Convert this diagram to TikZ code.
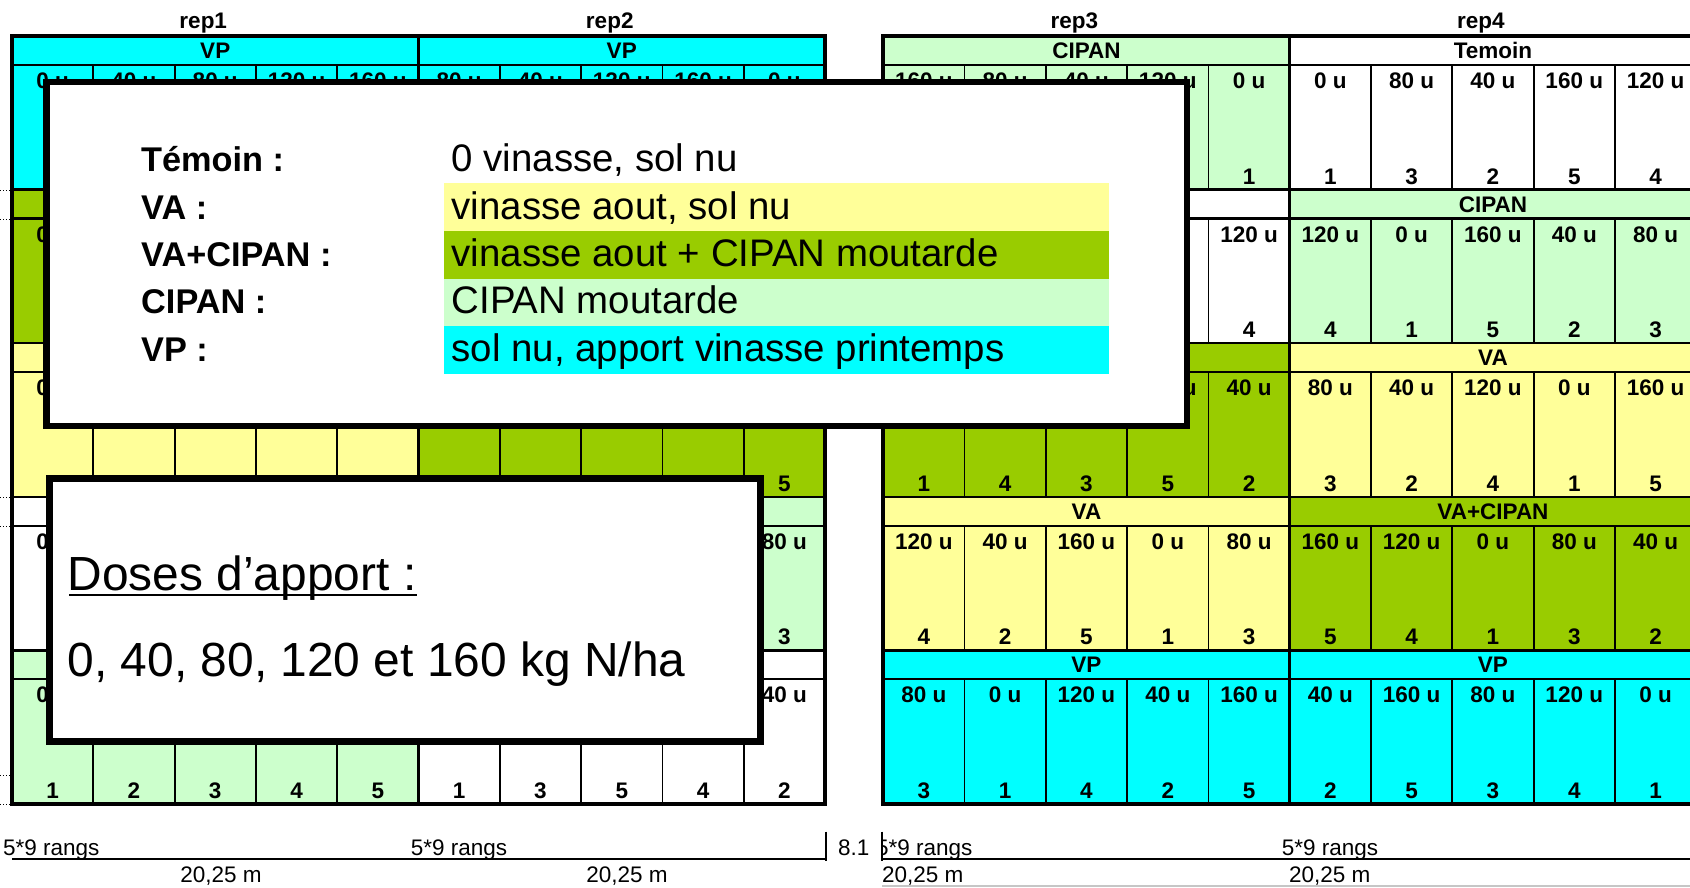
\documentclass[tikz,border=0pt]{standalone}
\usepackage{fontspec}
\setmainfont{Liberation Sans}
\usepackage{tikz}
\usetikzlibrary{positioning,calc}
\definecolor{vpcyan}{RGB}{0,255,255}
\definecolor{vayellow}{RGB}{255,255,153}
\definecolor{vaolive}{RGB}{153,204,0}
\definecolor{cipgreen}{RGB}{204,255,204}
\newcommand{\cellfont}{\fontsize{22.5}{27}\selectfont\bfseries}
\newcommand{\dimfont}{\fontsize{22.5}{27}\selectfont}

\begin{document}
\begin{tikzpicture}[x=1pt, y=-1pt]
    \tikzstyle{plot}=[draw, line width=1.8pt, minimum width=81.3pt, minimum height=124.6pt, inner sep=0pt, outer sep=0pt, anchor=north west]
    \tikzstyle{head}=[draw, line width=2.5pt, minimum width=406.5pt, minimum height=29pt, inner sep=0pt, outer sep=0pt, anchor=north west, font=\cellfont, text height=16.1pt, text depth=0pt]
    \tikzstyle{txt}=[inner sep=0pt, anchor=base, font=\cellfont]
    \tikzstyle{legbox}=[draw, fill=white, inner sep=0pt, outer sep=0pt, anchor=north west]
    \tikzstyle{bar}=[minimum width=665pt, minimum height=47.6pt, inner sep=0pt, outer sep=0pt, anchor=north west]
    \tikzstyle{key}=[inner sep=0pt, anchor=base west, font=\fontsize{34.3}{40}\selectfont\bfseries]
    \tikzstyle{val}=[inner sep=0pt, anchor=base west, font=\fontsize{38.4}{45}\selectfont]
    \tikzstyle{big}=[inner sep=0pt, anchor=base west, font=\fontsize{47.9}{57}\selectfont]
    \tikzstyle{dim}=[inner sep=0pt, anchor=base west, font=\dimfont]

    \useasboundingbox (0,0) rectangle (1690,887);
    \clip (0,0) rectangle (1690,887);

    % plots: header strip + 5 doses per rep and row
    \foreach \rn/\bx/\row/\fc/\lab in {
        1/12/1/vpcyan/VP, 1/12/2/vaolive/, 1/12/3/vayellow/, 1/12/4/white/, 1/12/5/cipgreen/,
        2/418.5/1/vpcyan/VP, 2/418.5/2/vayellow/, 2/418.5/3/vaolive/, 2/418.5/4/cipgreen/, 2/418.5/5/white/,
        3/883.2/1/cipgreen/CIPAN, 3/883.2/2/white/, 3/883.2/3/vaolive/, 3/883.2/4/vayellow/VA, 3/883.2/5/vpcyan/VP,
        4/1289.7/1/white/Temoin, 4/1289.7/2/cipgreen/CIPAN, 4/1289.7/3/vayellow/VA, 4/1289.7/4/vaolive/VA+CIPAN, 4/1289.7/5/vpcyan/VP}
    {
        \node[head, fill=\fc] (h\rn-\row) at ({\bx}, {36+(\row-1)*153.6}) {\lab};
        \foreach \cc in {0,...,4}
            \node[plot, fill=\fc] (p\rn-\row-\cc) at ({\bx+\cc*81.3}, {65+(\row-1)*153.6}) {};
    }

    % dose on top, number at the bottom
    \foreach \rn/\row/\cells in {
        1/1/{0 u/,40 u/,80 u/,120 u/,160 u/},
        1/2/{0 u/,/,/,/,/},
        1/3/{0 u/1,/2,/3,/4,/5},
        1/4/{0 u/,/,/,/,/},
        1/5/{0 u/1,/2,/3,/4,/5},
        2/1/{80 u/,40 u/,120 u/,160 u/,0 u/},
        2/3/{/,/,/,/,/5},
        2/4/{/,/,/,/,80 u/3},
        2/5/{/1,/3,/5,/4,40 u/2},
        3/1/{160 u/,80 u/,40 u/,120 u/,0 u/1},
        3/2/{/,/,/,/,120 u/4},
        3/3/{/1,/4,/3,160 u/5,40 u/2},
        3/4/{120 u/4,40 u/2,160 u/5,0 u/1,80 u/3},
        3/5/{80 u/3,0 u/1,120 u/4,40 u/2,160 u/5},
        4/1/{0 u/1,80 u/3,40 u/2,160 u/5,120 u/4},
        4/2/{120 u/4,0 u/1,160 u/5,40 u/2,80 u/3},
        4/3/{80 u/3,40 u/2,120 u/4,0 u/1,160 u/5},
        4/4/{160 u/5,120 u/4,0 u/1,80 u/3,40 u/2},
        4/5/{40 u/2,160 u/5,80 u/3,120 u/4,0 u/1}}
    {
        \foreach \ds/\nb [count=\cc from 0] in \cells {
            \if\relax\detokenize\expandafter{\ds}\relax\else
                \node[txt] (d\rn-\row-\cc) at ($(p\rn-\row-\cc.north)+(0,23.5)$) {\ds};
            \fi
            \if\relax\detokenize\expandafter{\nb}\relax\else
                \node[txt] (n\rn-\row-\cc) at ($(p\rn-\row-\cc.south)+(0,-5.5)$) {\nb};
            \fi
        }
    }

    % rep frames
    \foreach \rn in {1,...,4} {
        \draw[line width=3pt] (h\rn-1.north west) rectangle (p\rn-5-4.south east);
        \node[txt] (rep\rn) at ($(h\rn-1.north)+(-12,-7.5)$) {rep\rn};
    }
    \draw[line width=4pt] (h1-1.north west) rectangle (p2-5-4.south east);
    \draw[line width=4pt] (h3-1.north west) rectangle (p4-5-4.south east);

    \foreach \ty in {190,219,497,526,775,804}
        \draw[dotted, line width=1pt] (0,\ty) -- (10,\ty);

    % legend of the treatments
    \node[legbox, line width=6.5pt, minimum width=1140.5pt, minimum height=344pt] (legend) at (46.5,82) {};
    \node[bar, fill=vayellow] (bVA) at (444,183.3) {};
    \node[bar, fill=vaolive, below=0pt of bVA] (bVC) {};
    \node[bar, fill=cipgreen, below=0pt of bVC] (bCI) {};
    \node[bar, fill=vpcyan, below=0pt of bCI] (bVP) {};
    \node[key] (kT) at (141,171.7) {Témoin :};
    \node[key] (kVA) at (141,219) {VA :};
    \node[key] (kVC) at (141,266.3) {VA+CIPAN :};
    \node[key] (kCI) at (141,313.7) {CIPAN :};
    \node[key] (kVP) at (141,361) {VP :};
    \node[val] (vT) at (451.5,171.7) {0 vinasse, sol nu};
    \node[val] (vVA) at (451.5,219) {vinasse aout, sol nu};
    \node[val] (vVC) at (451.5,266.3) {vinasse aout + CIPAN moutarde};
    \node[val] (vCI) at (451.5,313.7) {CIPAN moutarde};
    \node[val] (vVP) at (451.5,361) {sol nu, apport vinasse printemps};

    % legend of the doses
    \node[legbox, line width=7pt, minimum width=710.3pt, minimum height=263pt] (doses) at (49.7,478.7) {};
    \node[big] (dtitle) at (67.5,590) {Doses d’apport :};
    \draw[line width=2.4pt] ($(dtitle.base west)+(1.5,5)$) -- ($(dtitle.base east)+(0,5)$);
    \node[big] (dlist) at (67.5,676.7) {0, 40, 80, 120 et 160 kg N/ha};

    % widths under the field
    \node[dim] (r1) at (3,855) {5*9 rangs};
    \node[dim] (r2) at (410.7,855) {5*9 rangs};
    \begin{scope}
        \clip (882.3,820) rectangle (1690,870);
        \node[dim] (r3) at (876,855) {5*9 rangs};
    \end{scope}
    \node[dim] (r4) at (1281.6,855) {5*9 rangs};
    \node[dim] (gap) at (838,855) {8.1};
    \node[dim, anchor=base] (m1) at (221,882.5) {20,25 m};
    \node[dim, anchor=base] (m2) at (627,882.5) {20,25 m};
    \node[dim] (m3) at (882,882.5) {20,25 m};
    \node[dim] (m4) at (1289,882.5) {20,25 m};
    \draw[line width=2pt] (12.3,859.3) -- (826,859.3);
    \draw[line width=2pt] (826,831.7) -- (826,860.7);
    \draw[line width=2pt] (882.3,831.7) -- (882.3,860.5);
    \draw[line width=2pt] (882.3,859) -- (1690,859);
    \draw[gray!45, line width=1.5pt] (882.3,886.2) -- (1690,886.2);
\end{tikzpicture}
\end{document}
